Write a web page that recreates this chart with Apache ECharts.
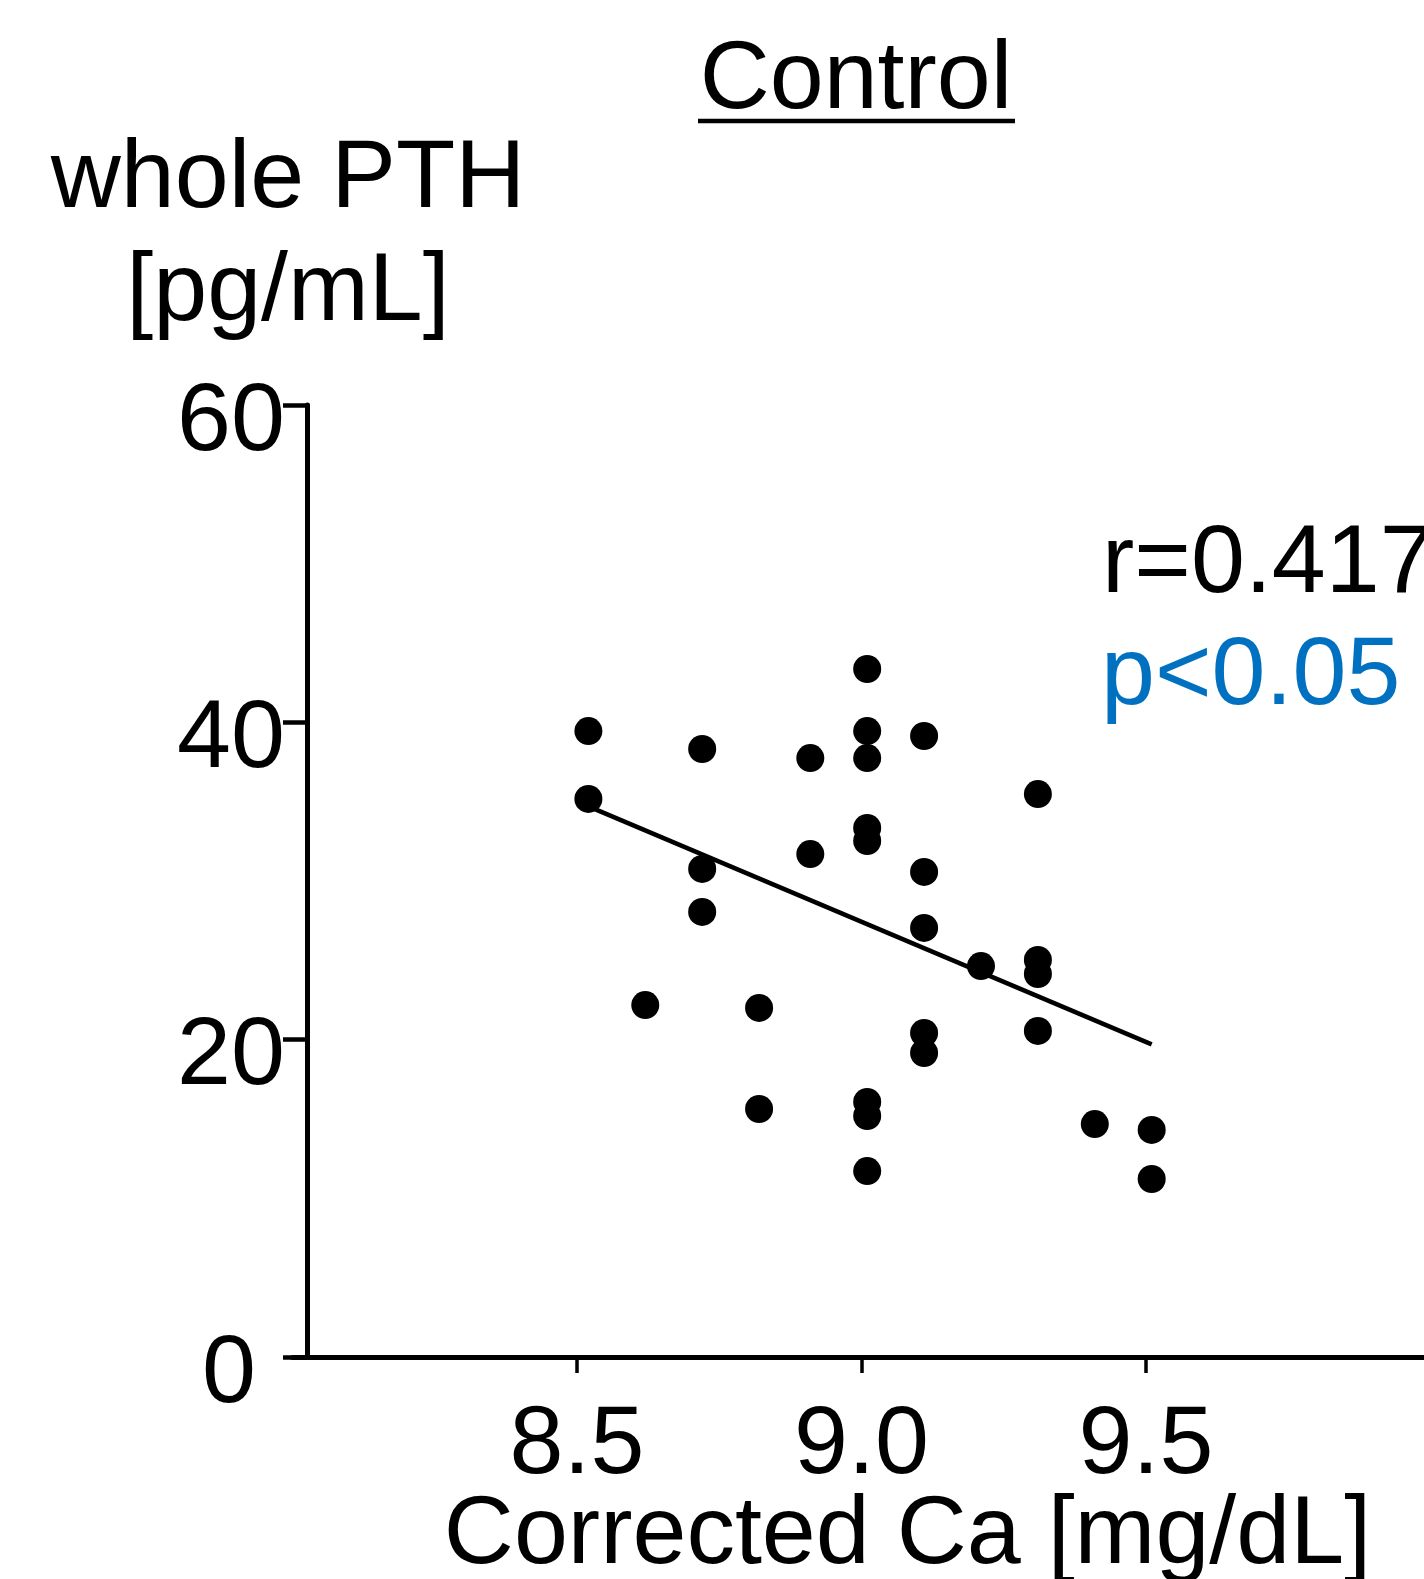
<!DOCTYPE html>
<html>
<head>
<meta charset="utf-8">
<script src="https://cdn.jsdelivr.net/npm/echarts@6/dist/echarts.min.js"></script>
<style>
html,body{margin:0;padding:0;background:#fff;}
#chart{width:1424px;height:1579px;}
</style>
</head>
<body>
<div id="chart"></div>
<script>
// Corrected Ca [mg/dL] (x) and whole PTH [pg/mL] (y) for each subject
const caValues = [
  8.52, 8.52,
  8.62,
  8.72, 8.72, 8.72,
  8.82, 8.82,
  8.91, 8.91,
  9.01, 9.01, 9.01, 9.01, 9.01, 9.01, 9.01, 9.01,
  9.11, 9.11, 9.11, 9.11, 9.11,
  9.21,
  9.31, 9.31, 9.31, 9.31,
  9.41,
  9.51, 9.51
];
const pthValues = [
  39.45, 35.17,
  22.18,
  38.32, 30.76, 28.05,
  22.00, 15.63,
  37.75, 31.70,
  43.36, 39.45, 37.75, 33.34, 32.52, 16.07, 15.19, 11.72,
  39.14, 30.57, 27.04, 20.42, 19.16,
  24.64,
  35.48, 25.02, 24.14, 20.55,
  14.68,
  14.31, 11.22
];
// regression line end points
const fitX = [8.52, 9.51];
const fitY = [34.7, 19.7];
const xTicks = [8.5, 9.0, 9.5];
const yTicks = [0, 20, 40, 60];
const titleText = 'Control';
const yTitle = ['whole PTH', '[pg/mL]'];
const xTitle = 'Corrected Ca [mg/dL]';
const rText = 'r=0.417';
const pText = 'p<0.05';

const FONT = '"Liberation Sans", Arial, Helvetica, sans-serif';
const FS = 97;

const chart = echarts.init(document.getElementById('chart'), null, {renderer: 'canvas'});
const points = caValues.map((x, i) => [x, pthValues[i]]);
const fit = fitX.map((x, i) => [x, fitY[i]]);

chart.setOption({
  backgroundColor: '#ffffff',
  animation: false,
  title: {
    text: titleText,
    left: 856,
    top: 81.5,
    textAlign: 'center',
    textVerticalAlign: 'middle',
    padding: 0,
    textStyle: {fontFamily: FONT, fontSize: FS, fontWeight: 'normal', color: '#000'}
  },
  grid: {
    left: 292.5, top: 405, width: 1138, height: 952,
    containLabel: false, outerBoundsMode: 'none'
  },
  xAxis: {
    type: 'value', min: 8, max: 10,
    splitLine: {show: false},
    axisLine: {show: true, lineStyle: {color: '#000', width: 5}},
    axisTick: {show: true, customValues: xTicks, length: 16, lineStyle: {color: '#000', width: 3.5}},
    axisLabel: {
      show: true, customValues: xTicks, margin: 41,
      fontFamily: FONT, fontSize: FS, color: '#000',
      formatter: v => Number(v).toFixed(1)
    },
    name: xTitle,
    nameLocation: 'middle',
    nameGap: 131,
    nameMoveOverlap: false,
    nameTextStyle: {fontFamily: FONT, fontSize: FS, color: '#000', padding: [0, 0, 0, 92]}
  },
  yAxis: {
    type: 'value', min: 0, max: 60, interval: 20,
    offset: -14.5,
    splitLine: {show: false},
    axisLine: {show: true, lineStyle: {color: '#000', width: 5}},
    axisTick: {show: true, length: 24, lineStyle: {color: '#000', width: 4.5}},
    axisLabel: {
      show: true, margin: 22,
      fontFamily: FONT, fontSize: FS, color: '#000',
      padding: [36, 0, 0, 0],
      formatter: v => (v === 0 ? '{z|0}' : String(v)),
      rich: {z: {fontFamily: FONT, fontSize: FS, color: '#000', padding: [0, 29, 0, 0]}}
    }
  },
  graphic: [
    {type: 'line', shape: {x1: 698, y1: 121, x2: 1015, y2: 121}, style: {stroke: '#000', lineWidth: 4.5}},
    {type: 'text', x: 288, y: 180.5, style: {text: yTitle[0], fontFamily: FONT, fontSize: FS, fill: '#000', align: 'center', verticalAlign: 'middle'}},
    {type: 'text', x: 288, y: 293, style: {text: yTitle[1], fontFamily: FONT, fontSize: FS, fill: '#000', align: 'center', verticalAlign: 'middle'}},
    {type: 'text', x: 1102, y: 565.5, style: {text: rText, fontFamily: FONT, fontSize: FS, fill: '#000', align: 'left', verticalAlign: 'middle'}},
    {type: 'text', x: 1101, y: 677.5, style: {text: pText, fontFamily: FONT, fontSize: FS, fill: '#0070C0', align: 'left', verticalAlign: 'middle'}}
  ],
  series: [
    {
      type: 'scatter', data: points, symbol: 'circle', symbolSize: 28,
      itemStyle: {color: '#000', opacity: 1}, z: 3
    },
    {
      type: 'line', data: fit, showSymbol: false, symbol: 'none',
      lineStyle: {color: '#000', width: 4.5}, z: 4
    }
  ]
});
</script>
</body>
</html>
